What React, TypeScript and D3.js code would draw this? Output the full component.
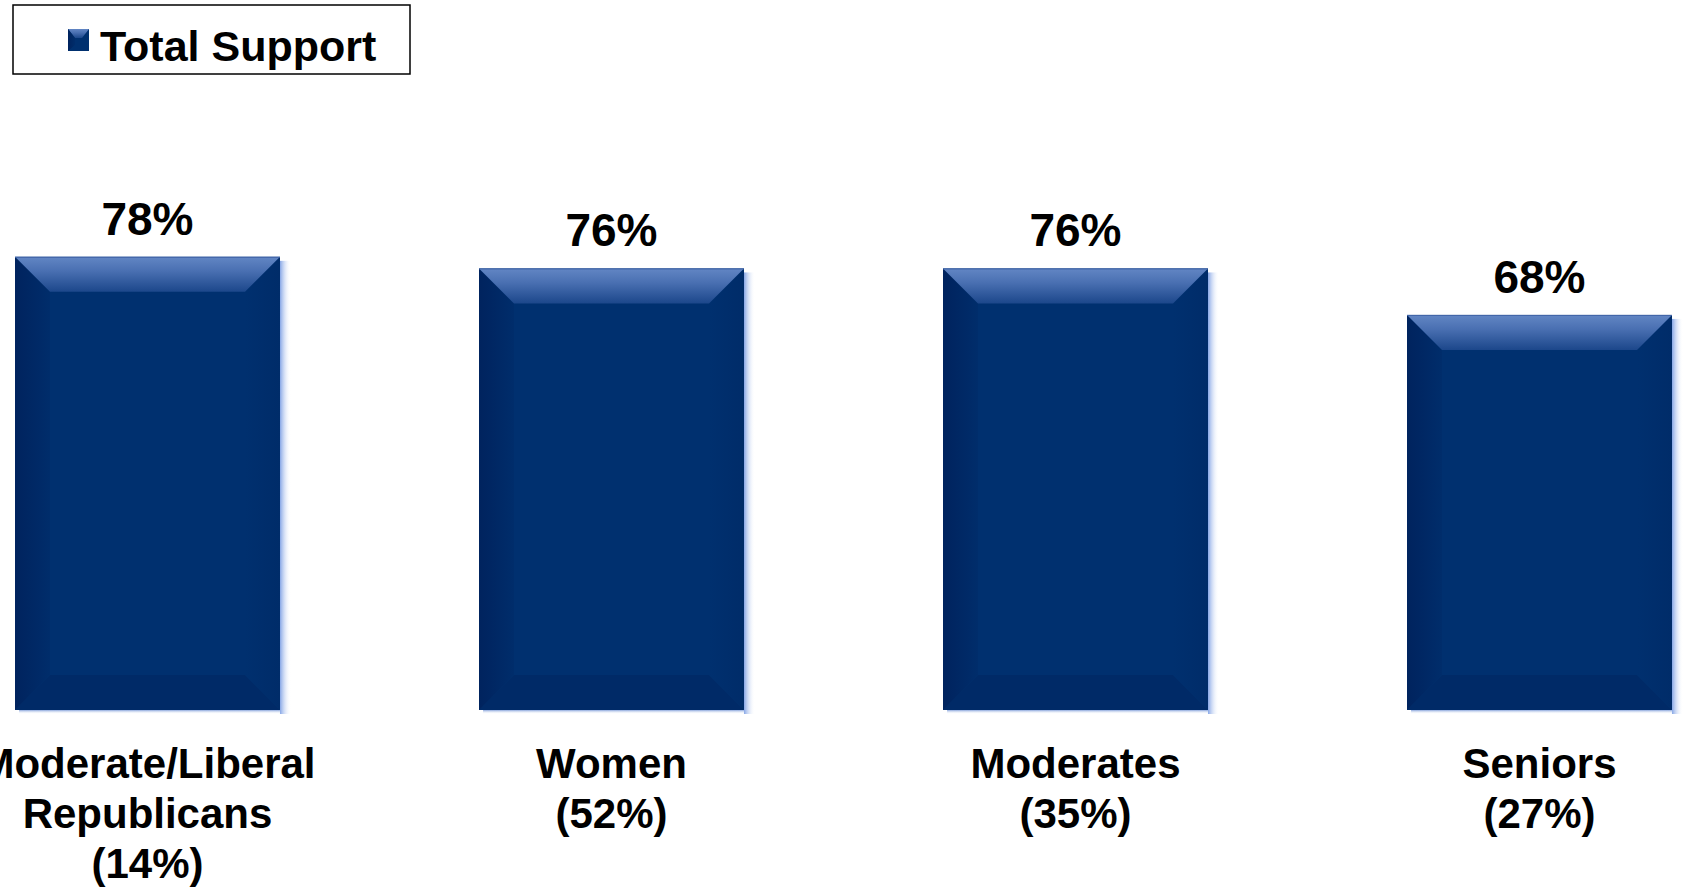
import React from "react";
import * as d3 from "d3";

const categories: string[][] = [
  ["Moderate/Liberal", "Republicans", "(14%)"],
  ["Women", "(52%)"],
  ["Moderates", "(35%)"],
  ["Seniors", "(27%)"],
];
const values: number[] = [78, 76, 76, 68];
const valueLabels: string[] = ["78%", "76%", "76%", "68%"];
const seriesName = "Total Support";

const W = 1683;
const H = 889;
const FONT = "'Liberation Sans', Arial, Helvetica, sans-serif";

export default function App() {
  const keys = categories.map((c) => c.join(" "));
  const x = d3
    .scaleBand<string>()
    .domain(keys)
    .range([-84.5, 1771.5])
    .paddingInner(0.429)
    .paddingOuter(0.2145);
  const y = d3.scaleLinear().domain([0, 100]).range([710, 129]);
  const bw = x.bandwidth();
  const b = 35;

  return (
    <svg
      width={W}
      height={H}
      style={{ position: "absolute", left: 0, top: 0, background: "#fff" }}
      fontFamily={FONT}
    >
      <defs>
        <linearGradient id="topBevel" x1="0" y1="0" x2="0" y2="1">
          <stop offset="0" stopColor="#6286c4" />
          <stop offset="0.4" stopColor="#4a70b2" />
          <stop offset="1" stopColor="#1c478b" />
        </linearGradient>
        <linearGradient id="leftBevel" x1="0" y1="0" x2="1" y2="0">
          <stop offset="0" stopColor="#00235e" />
          <stop offset="1" stopColor="#002d6b" />
        </linearGradient>
        <linearGradient id="rightBevel" x1="0" y1="0" x2="1" y2="0">
          <stop offset="0" stopColor="#00306f" />
          <stop offset="1" stopColor="#002c69" />
        </linearGradient>
        <linearGradient id="shadowR" x1="0" y1="0" x2="1" y2="0">
          <stop offset="0" stopColor="#86a6e6" />
          <stop offset="1" stopColor="#ffffff" stopOpacity="0" />
        </linearGradient>
        <linearGradient id="shadowB" x1="0" y1="0" x2="0" y2="1">
          <stop offset="0" stopColor="#8aa6dc" />
          <stop offset="1" stopColor="#ffffff" stopOpacity="0" />
        </linearGradient>
      </defs>

      {/* Legend */}
      <rect x={13} y={5} width={397} height={69} fill="#fff" stroke="#000" strokeWidth={1.5} />
      <g>
        <rect x={68} y={29} width={21} height={22} fill="#00306f" />
        <polygon points="68,29 89,29 82,38 75,38" fill="url(#topBevel)" />
        <polygon points="68,29 75,38 75,45 68,51" fill="url(#leftBevel)" />
        <text x={100} y={61} fontSize={43} fontWeight="bold" fill="#000">
          {seriesName}
        </text>
      </g>

      {values.map((v, i) => {
        const x0 = x(keys[i]) as number;
        const x1 = x0 + bw;
        const yt = y(v);
        const yb = y(0);
        const cx = x0 + bw / 2;
        return (
          <g key={keys[i]}>
            {/* shadow */}
            <rect x={x1} y={yt + 4} width={11} height={yb - yt} fill="url(#shadowR)" />
            <rect x={x0 + 4} y={yb} width={bw - 4} height={4} fill="url(#shadowB)" />
            {/* face */}
            <rect x={x0} y={yt} width={bw} height={yb - yt} fill="#00306f" />
            {/* bottom bevel */}
            <polygon
              points={`${x0},${yb} ${x1},${yb} ${x1 - b},${yb - b} ${x0 + b},${yb - b}`}
              fill="#002a67"
            />
            {/* left bevel */}
            <polygon
              points={`${x0},${yt} ${x0 + b},${yt + b} ${x0 + b},${yb - b} ${x0},${yb}`}
              fill="url(#leftBevel)"
            />
            {/* right bevel */}
            <polygon
              points={`${x1},${yt} ${x1 - b},${yt + b} ${x1 - b},${yb - b} ${x1},${yb}`}
              fill="url(#rightBevel)"
            />
            {/* top bevel */}
            <polygon
              points={`${x0},${yt} ${x1},${yt} ${x1 - b},${yt + b} ${x0 + b},${yt + b}`}
              fill="url(#topBevel)"
            />
            <line x1={x0} x2={x1} y1={yt + 0.5} y2={yt + 0.5} stroke="#3f63a6" strokeWidth={1} />
            {/* value label */}
            <text
              x={cx}
              y={yt - 22}
              textAnchor="middle"
              fontSize={46}
              fontWeight="bold"
              fill="#000"
            >
              {valueLabels[i]}
            </text>
            {/* category label */}
            {categories[i].map((line, j) => (
              <text
                key={j}
                x={cx}
                y={778 + j * 50}
                textAnchor="middle"
                fontSize={42}
                fontWeight="bold"
                fill="#000"
              >
                {line}
              </text>
            ))}
          </g>
        );
      })}
    </svg>
  );
}
